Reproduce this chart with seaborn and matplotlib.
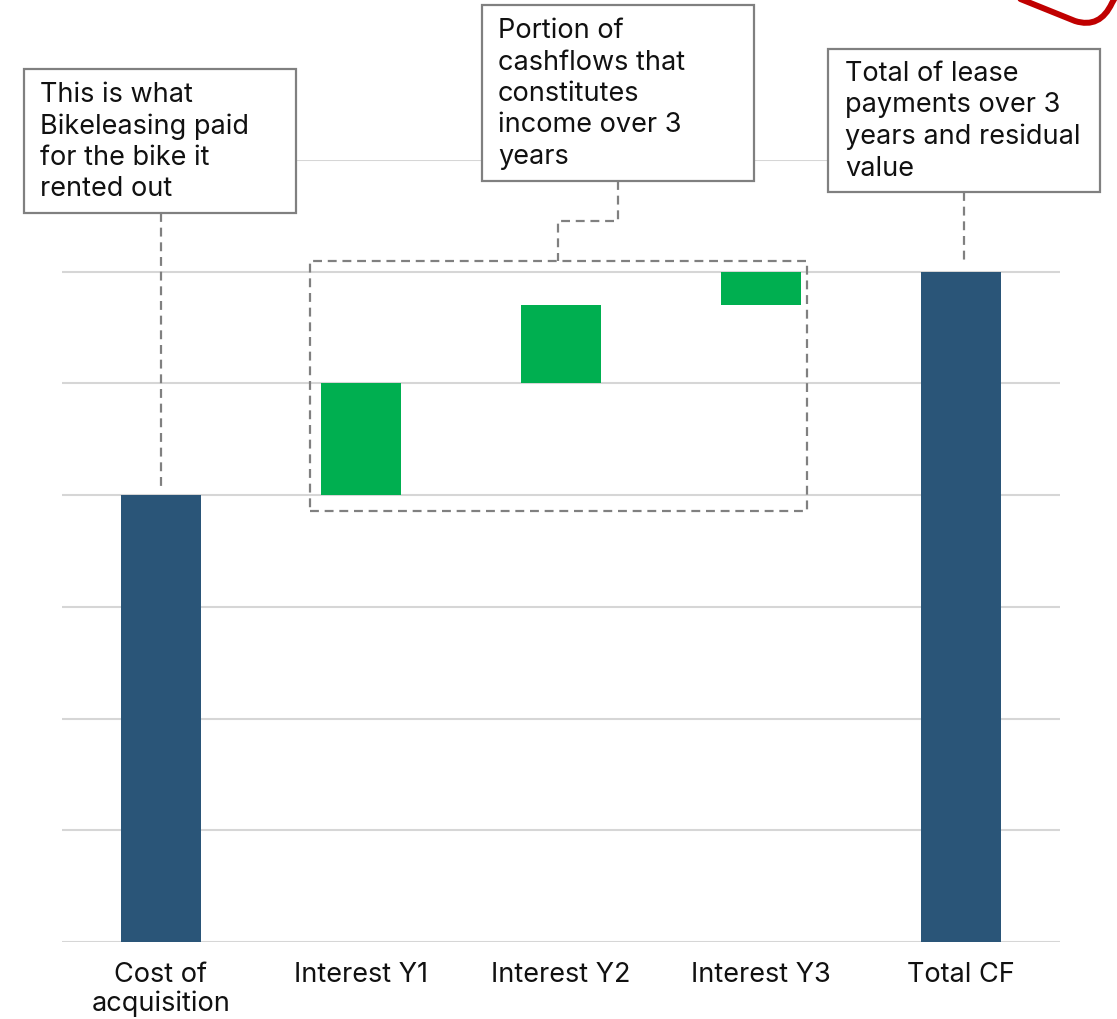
import matplotlib
matplotlib.use("Agg")
import matplotlib.pyplot as plt
from matplotlib.patches import Rectangle, PathPatch
from matplotlib.path import Path
import seaborn as sns
import numpy as np

# Waterfall steps: acquisition cost, yearly interest, and resulting total cash flow
categories = ["Cost of\nacquisition", "Interest Y1", "Interest Y2", "Interest Y3", "Total CF"]
step_values = [2000, 500, 350, 150, 3000]
step_kinds = ["total", "delta", "delta", "delta", "total"]
y_ticks = [0, 500, 1000, 1500, 2000, 2500, 3000, 3500]

BLUE = "#2A5578"
GREEN = "#00AF50"
GREY = "#808080"
GRID = "#D6D6D6"

# floating bases for the interest steps
bases = []
running = 0
for v, k in zip(step_values, step_kinds):
    if k == "total":
        bases.append(0)
        running = v
    else:
        bases.append(running)
        running += v
colors = [BLUE if k == "total" else GREEN for k in step_kinds]

sns.set_theme(style="white")
plt.rcParams["font.family"] = ["Inter", "DejaVu Sans"]

W, H = 1117, 1020
fig = plt.figure(figsize=(W / 100, H / 100), dpi=100)
ax = fig.add_axes([62 / W, (H - 943) / H, (1060 - 62) / W, (943 - 161) / H])

sns.barplot(x=categories, y=step_values, hue=categories, palette=colors,
            legend=False, width=0.4, saturation=1, ax=ax, zorder=3)
for patch, base in zip(ax.patches, bases):
    patch.set_y(base)
    patch.set_linewidth(0)

ax.set_xlim(-0.495, 4.495)
ax.set_ylim(0, 3500)
ax.set_yticks(y_ticks)
ax.set_yticklabels([])
ax.tick_params(axis="y", length=0)
ax.tick_params(axis="x", length=0, pad=14, labelsize=19.5, labelcolor="#111111")
for lbl in ax.get_xticklabels():
    lbl.set_linespacing(1.12)
ax.grid(axis="y", color=GRID, linewidth=1.5, zorder=0)
ax.set_axisbelow(True)
for s in ax.spines.values():
    s.set_visible(False)
ax.set_xlabel("")
ax.set_ylabel("")

TXT = dict(fontsize=19.5, color="#111111", linespacing=1.27, ha="left", va="center",
           clip_on=False, zorder=6)


def callout(x0, x1, y0, y1, text, pad):
    ax.add_patch(Rectangle((x0, y0), x1 - x0, y1 - y0, facecolor="white",
                           edgecolor=GREY, linewidth=1.6, clip_on=False, zorder=5))
    ax.text(x0 + pad, (y0 + y1) / 2, text, **TXT)


DASH = dict(color=GREY, linewidth=1.6, linestyle=(0, (4, 2.6)), clip_on=False, zorder=4)

# callout boxes
callout(-0.685, 0.675, 3263, 3907,
        "This is what\nBikeleasing paid\nfor the bike it\nrented out", 0.08)
callout(1.605, 2.965, 3406, 4194,
        "Portion of\ncashflows that\nconstitutes\nincome over 3\nyears", 0.08)
callout(3.335, 4.695, 3357, 3997,
        "Total of lease\npayments over 3\nyears and residual\nvalue", 0.085)

# connectors
ax.plot([0, 0], [3263, step_values[0] + 30], **DASH)
ax.plot([2.285, 2.285, 1.985, 1.985], [3406, 3227, 3227, 3048], **DASH)
ax.plot([4.015, 4.015], [3357, step_values[4] + 30], **DASH)

# dashed frame around the interest steps
ax.add_patch(Rectangle((0.745, 1929), 3.23 - 0.745, 3048 - 1929, facecolor="none",
                       edgecolor=GREY, linewidth=1.6, linestyle=(0, (4, 2.6)),
                       clip_on=False, zorder=4))

# red rounded corner peeking in at the top right
verts = [(1013, -3), (1075, 22), (1100, 30), (1112, 4), (1116, -3)]
codes = [Path.MOVETO, Path.LINETO, Path.CURVE3, Path.CURVE3, Path.LINETO]
pverts = [(x / W, 1 - y / H) for x, y in verts]
fig.add_artist(PathPatch(Path(pverts, codes), facecolor="none", edgecolor="#C00000",
                         linewidth=4.3, transform=fig.transFigure, capstyle="round",
                         joinstyle="round"))

fig.savefig("out.png", dpi=100)
